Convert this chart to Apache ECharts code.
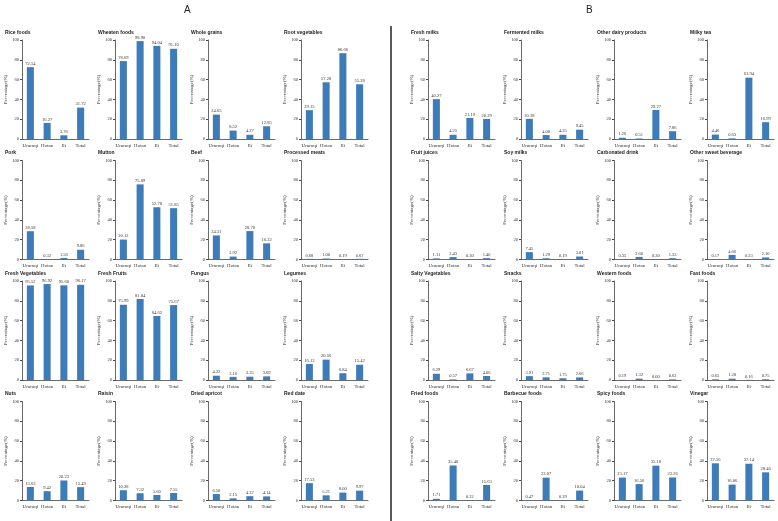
<!DOCTYPE html>
<html>
<head>
<meta charset="utf-8">
<script src="https://cdn.jsdelivr.net/npm/echarts@6/dist/echarts.min.js"></script>
<style>
  html, body { margin: 0; padding: 0; background: #fff; }
  #main { width: 778px; height: 521px; }
</style>
</head>
<body>
<div id="main"></div>
<script>
// 地区
var regions = ['Urumqi', 'Hotan', 'Ili', 'Total'];
var yTicks = [0, 20, 40, 60, 80, 100];

// Panel A
var riceFoods = [72.54, 16.27, 3.76, 31.72];
var wheatenFoods = [78.69, 98.90, 94.04, 91.10];
var wholeGrains = [24.65, 8.52, 4.27, 12.85];
var rootVegetables = [29.15, 57.28, 86.66, 55.28];
var pork = [28.58, 0.32, 1.56, 9.86];
var mutton = [20.12, 75.89, 52.78, 51.85];
var beef = [24.31, 2.92, 28.70, 16.32];
var processedMeats = [0.68, 1.00, 0.19, 0.67];
var freshVegetables = [95.52, 96.92, 95.60, 96.17];
var freshFruits = [75.99, 81.84, 64.62, 75.67];
var fungus = [4.32, 3.16, 3.35, 3.69];
var legumes = [16.13, 20.56, 6.84, 15.42];
var nuts = [13.63, 9.42, 20.23, 13.49];
var raisin = [10.38, 7.32, 5.60, 7.55];
var driedApricot = [6.50, 2.15, 4.37, 4.14];
var redDate = [17.53, 5.21, 8.00, 9.97];

// Panel B
var freshMilks = [40.27, 4.25, 21.19, 20.29];
var fermentedMilks = [20.38, 4.00, 4.25, 9.45];
var otherDairy = [1.26, 0.51, 29.27, 7.86];
var milkyTea = [4.46, 0.63, 61.94, 16.99];
var fruitJuices = [1.11, 2.43, 0.30, 1.40];
var soyMilks = [7.45, 1.29, 0.19, 3.01];
var carbonatedDrink = [0.35, 2.60, 0.30, 1.33];
var otherSweetBeverage = [0.17, 4.66, 0.23, 2.10];
var saltyVegetables = [6.29, 0.57, 6.67, 4.06];
var snacks = [3.91, 2.71, 1.75, 2.66];
var westernFoods = [0.19, 1.32, 0.00, 0.62];
var fastFoods = [0.65, 1.28, 0.16, 0.75];
var friedFoods = [1.71, 35.40, 0.32, 15.63];
var barbecueFoods = [0.47, 23.07, 0.39, 10.04];
var spicyFoods = [23.17, 16.56, 35.18, 23.26];
var vinegar = [37.56, 16.06, 37.14, 28.46];

var panelA = [
  ['Rice foods', riceFoods], ['Wheaten foods', wheatenFoods], ['Whole grains', wholeGrains], ['Root vegetables', rootVegetables],
  ['Pork', pork], ['Mutton', mutton], ['Beef', beef], ['Processed meats', processedMeats],
  ['Fresh Vegetables', freshVegetables], ['Fresh Fruits', freshFruits], ['Fungus', fungus], ['Legumes', legumes],
  ['Nuts', nuts], ['Raisin', raisin], ['Dried apricot', driedApricot], ['Red date', redDate]
];
var panelB = [
  ['Fresh milks', freshMilks], ['Fermented milks', fermentedMilks], ['Other dairy products', otherDairy], ['Milky tea', milkyTea],
  ['Fruit juices', fruitJuices], ['Soy milks', soyMilks], ['Carbonated drink', carbonatedDrink], ['Other sweet beverage', otherSweetBeverage],
  ['Salty Vegetables', saltyVegetables], ['Snacks', snacks], ['Western foods', westernFoods], ['Fast foods', fastFoods],
  ['Fried foods', friedFoods], ['Barbecue foods', barbecueFoods], ['Spicy foods', spicyFoods], ['Vinegar', vinegar]
];

var myChart = echarts.init(document.getElementById('main'));

var grids = [], xAxes = [], yAxes = [], series = [], titles = [];
var axisColor = '#444';
var serif = '"Liberation Serif", "DejaVu Serif", serif';

function addPanel(list, baseLeft) {
  list.forEach(function (item, i) {
    var c = i % 4, r = Math.floor(i / 4);
    var left = baseLeft + 93 * c;
    var top = 40 + 120.5 * r;
    var idx = grids.length;
    grids.push({ left: left, top: top, width: 67, height: 99 });
    titles.push({
      text: item[0], left: left - 17, top: top - 10, padding: 0,
      textStyle: { fontSize: 5, fontWeight: 'bold', color: '#222', fontFamily: 'Liberation Sans' }
    });
    xAxes.push({
      type: 'category', gridIndex: idx, data: regions,
      axisLine: { lineStyle: { color: axisColor, width: 0.8 } },
      axisTick: { alignWithLabel: true, length: 2, lineStyle: { color: axisColor } },
      axisLabel: { fontSize: 5, color: '#333', margin: 4, fontFamily: serif, interval: 0 }
    });
    yAxes.push({
      type: 'value', gridIndex: idx, min: yTicks[0], max: yTicks[yTicks.length - 1], interval: 20,
      name: 'Percentage(%)', nameLocation: 'middle', nameGap: 11, nameRotate: 90,
      nameTextStyle: { fontSize: 5, color: '#333', fontFamily: serif },
      axisLine: { show: true, lineStyle: { color: axisColor, width: 0.8 } },
      axisTick: { show: true, length: 2, lineStyle: { color: axisColor } },
      axisLabel: { fontSize: 4.5, color: '#333', margin: 3, fontFamily: serif },
      splitLine: { show: false }
    });
    series.push({
      type: 'bar', xAxisIndex: idx, yAxisIndex: idx, data: item[1], barWidth: '42%',
      itemStyle: { color: '#3d7cb8' },
      label: {
        show: true, position: 'top', distance: 1, fontSize: 4.5, color: '#333', fontFamily: serif,
        formatter: function (p) { return p.value.toFixed(2); }
      }
    });
  });
}

addPanel(panelA, 22);
addPanel(panelB, 428);

myChart.setOption({
  backgroundColor: '#fff',
  animation: false,
  title: titles,
  grid: grids,
  xAxis: xAxes,
  yAxis: yAxes,
  series: series,
  graphic: [
    { type: 'text', left: 184, top: 5, style: { text: 'A', fontSize: 10, fill: '#222', font: '10px "Liberation Serif"' } },
    { type: 'text', left: 586, top: 5, style: { text: 'B', fontSize: 10, fill: '#222', font: '10px "Liberation Serif"' } },
    { type: 'line', shape: { x1: 391, y1: 26, x2: 391, y2: 521 }, style: { stroke: '#222', lineWidth: 1.5 } }
  ]
});
</script>
</body>
</html>
